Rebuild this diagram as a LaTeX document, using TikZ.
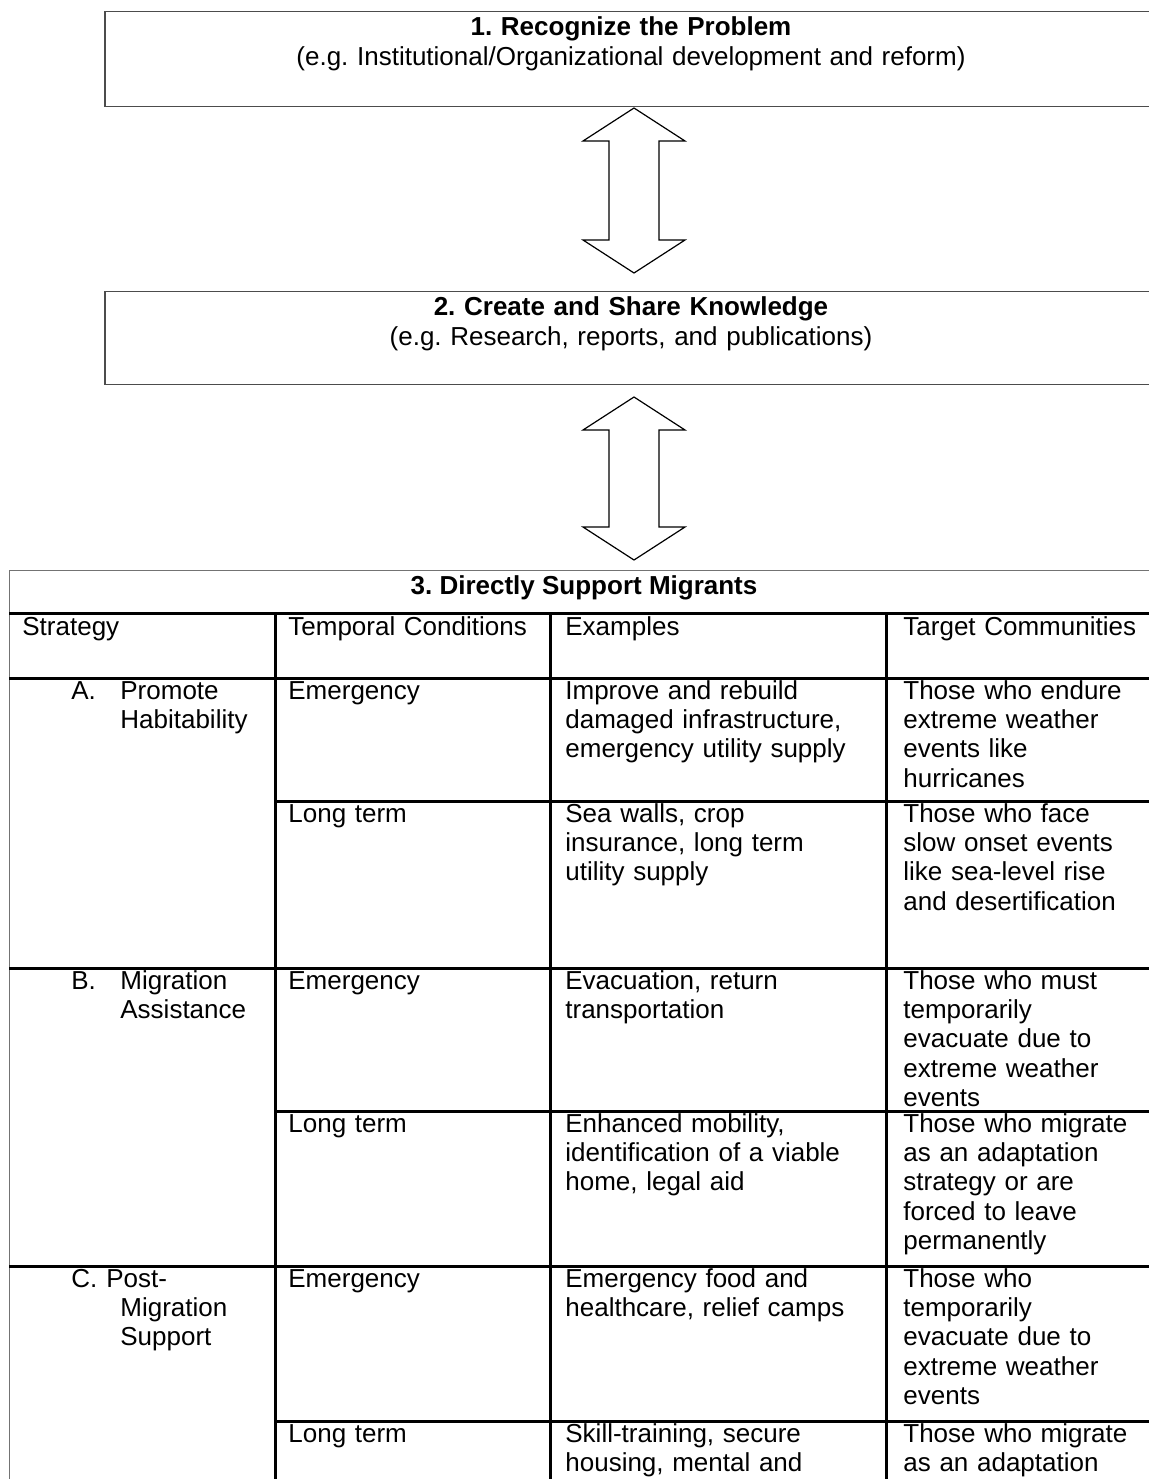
\documentclass[tikz,border=0pt]{standalone}
\usepackage{fontspec}
\setmainfont{Liberation Sans}
\frenchspacing

\tikzset{
  stagebox/.style={draw=black!70, line width=0.6pt, anchor=north, inner xsep=0pt,
    inner ysep=0pt, text width=526pt, align=center, text height=12pt},
  twoway/.style={draw=black, line width=0.6pt, line join=miter},
  celltxt/.style={anchor=base west, inner sep=0pt, text width=160pt, align=left},
  thinrule/.style={draw=black!55, line width=0.5pt},
  thickrule/.style={draw=black, line width=1.5pt}
}

\begin{document}
\begin{tikzpicture}[x=0.5pt, y=-0.5pt, font=\fontsize{13}{14.7}\selectfont]
\useasboundingbox (0,0) rectangle (1149,1479);

% the two upper stages
\node[stagebox, text depth=35.5pt] (recog) at (631,11)
  {\textbf{1. Recognize the Problem}\\
   (e.g. Institutional/Organizational development and reform)};
\node[stagebox, text depth=34.5pt] (share) at (631,291)
  {\textbf{2. Create and Share Knowledge}\\
   (e.g. Research, reports, and publications)};

% hollow two-way arrows between the stages
\coordinate (arrA) at (634,190.5);
\coordinate (arrB) at (634,478.5);
\draw[twoway] (arrA) ++(0,-82.5) -- ++(51,33) -- ++(-26,0) -- ++(0,99)
  -- ++(26,0) -- ++(-51,33) -- ++(-51,-33) -- ++(26,0) -- ++(0,-99)
  -- ++(-26,0) -- cycle;
\draw[twoway] (arrB) ++(0,-81.5) -- ++(51,33) -- ++(-26,0) -- ++(0,97)
  -- ++(26,0) -- ++(-51,33) -- ++(-51,-33) -- ++(26,0) -- ++(0,-97)
  -- ++(-26,0) -- cycle;

% table frame
\draw[thinrule] (9,570) -- (1160,570);
\draw[thinrule] (9,570) -- (9,1500);
\draw[thickrule] (9,613) -- (1160,613);
\draw[thickrule] (9,678) -- (1160,678);
\foreach \y in {968,1266}
  \draw[thickrule] (9,\y) -- (1160,\y);
\foreach \y in {801,1111,1421}
  \draw[thickrule] (275,\y) -- (1160,\y);
\foreach \x in {275,550,886}
  \draw[thickrule] (\x,613) -- (\x,1500);

\node[anchor=base, inner sep=0pt] (support) at (584,594)
  {\textbf{3. Directly Support Migrants}};

% header row
\node[celltxt] (hstrat) at (22,635) {Strategy};
\node[celltxt] (htemp) at (288,635) {Temporal Conditions};
\node[celltxt] (hexam) at (565,635) {Examples};
\node[celltxt] (htarg) at (903,635) {Target Communities};

% A
\node[celltxt] (aletter) at (71,699) {A.};
\node[celltxt] (astrat) at (120,699) {Promote\\Habitability};
\node[celltxt] (aemtemp) at (288,699) {Emergency};
\node[celltxt] (aemexam) at (565,699)
  {Improve and rebuild\\damaged infrastructure,\\emergency utility supply};
\node[celltxt] (aemtarg) at (903,699)
  {Those who endure\\extreme weather\\events like\\hurricanes};
\node[celltxt] (altemp) at (288,822) {Long term};
\node[celltxt] (alexam) at (565,822)
  {Sea walls, crop\\insurance, long term\\utility supply};
\node[celltxt] (altarg) at (903,822)
  {Those who face\\slow onset events\\like sea-level rise\\and desertification};

% B
\node[celltxt] (bletter) at (71,989) {B.};
\node[celltxt] (bstrat) at (120,989) {Migration\\Assistance};
\node[celltxt] (bemtemp) at (288,989) {Emergency};
\node[celltxt] (bemexam) at (565,989) {Evacuation, return\\transportation};
\node[celltxt] (bemtarg) at (903,989)
  {Those who must\\temporarily\\evacuate due to\\extreme weather\\events};
\node[celltxt] (bltemp) at (288,1132) {Long term};
\node[celltxt] (blexam) at (565,1132)
  {Enhanced mobility,\\identification of a viable\\home, legal aid};
\node[celltxt] (bltarg) at (903,1132)
  {Those who migrate\\as an adaptation\\strategy or are\\forced to leave\\permanently};

% C
\node[celltxt] (cletter) at (71,1287) {C.};
\node[celltxt] (cstrat) at (120,1287) {\hspace*{-7pt}Post-\\Migration\\Support};
\node[celltxt] (cemtemp) at (288,1287) {Emergency};
\node[celltxt] (cemexam) at (565,1287)
  {Emergency food and\\healthcare, relief camps};
\node[celltxt] (cemtarg) at (903,1287)
  {Those who\\temporarily\\evacuate due to\\extreme weather\\events};
\node[celltxt] (cltemp) at (288,1442) {Long term};
\node[celltxt] (clexam) at (565,1442) {Skill-training, secure\\housing, mental and};
\node[celltxt] (cltarg) at (903,1442) {Those who migrate\\as an adaptation};
\end{tikzpicture}
\end{document}
